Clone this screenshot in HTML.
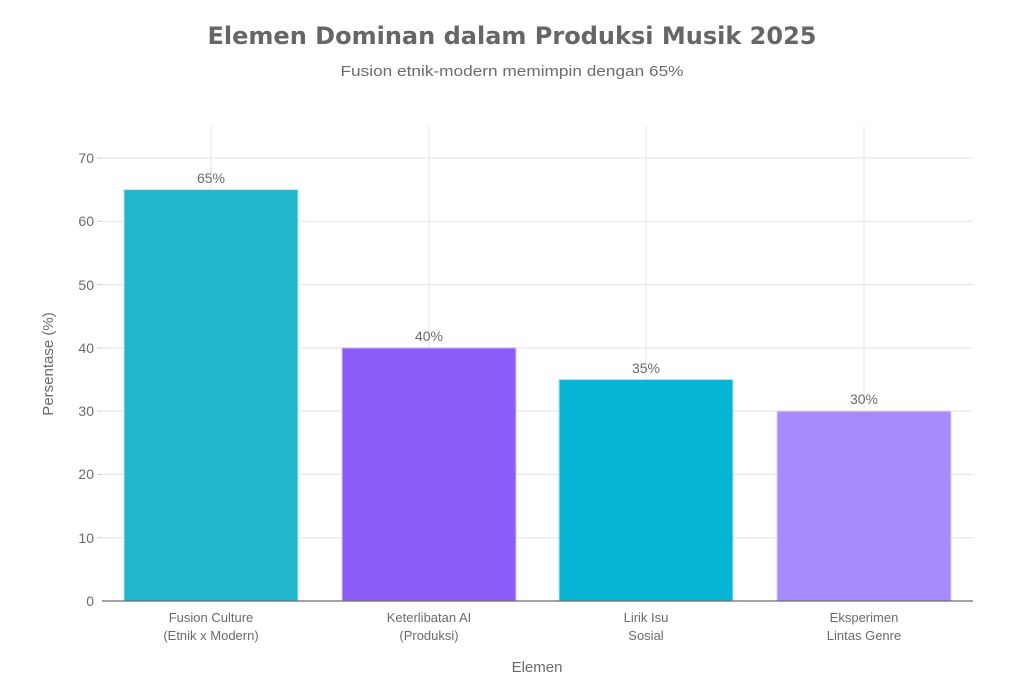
<!DOCTYPE html>
<html><head><meta charset="utf-8"><style>
body{margin:0;background:#fff;}
text{font-family:"Liberation Sans",sans-serif;}
</style></head><body>
<svg width="1024" height="683" xmlns="http://www.w3.org/2000/svg">
<rect width="1024" height="683" fill="#fff"/>
<text x="512" y="44" text-anchor="middle" font-size="24" font-weight="bold" fill="#666" textLength="609" lengthAdjust="spacingAndGlyphs" style="font-family:'DejaVu Sans',sans-serif">Elemen Dominan dalam Produksi Musik 2025</text>
<text x="512" y="76" text-anchor="middle" font-size="15" fill="#6b6b6b" textLength="343" lengthAdjust="spacingAndGlyphs">Fusion etnik-modern memimpin dengan 65%</text>
<g stroke="#e3e3e3" stroke-width="1">
<line x1="102" x2="973" y1="537.7" y2="537.7"/>
<line x1="102" x2="973" y1="474.4" y2="474.4"/>
<line x1="102" x2="973" y1="411.1" y2="411.1"/>
<line x1="102" x2="973" y1="347.9" y2="347.9"/>
<line x1="102" x2="973" y1="284.6" y2="284.6"/>
<line x1="102" x2="973" y1="221.3" y2="221.3"/>
<line x1="102" x2="973" y1="158" y2="158"/>
<line x1="211" x2="211" y1="126" y2="601"/>
<line x1="429" x2="429" y1="126" y2="601"/>
<line x1="646" x2="646" y1="126" y2="601"/>
<line x1="864" x2="864" y1="126" y2="601"/>
</g>
<g stroke="#cfcfcf"><line x1="97" x2="102" y1="537.7" y2="537.7"/><line x1="97" x2="102" y1="474.4" y2="474.4"/><line x1="97" x2="102" y1="411.1" y2="411.1"/><line x1="97" x2="102" y1="347.9" y2="347.9"/><line x1="97" x2="102" y1="284.6" y2="284.6"/><line x1="97" x2="102" y1="221.3" y2="221.3"/><line x1="97" x2="102" y1="158" y2="158"/></g>
<rect x="124" y="189.6" width="174" height="411.4" fill="#21b6cb" stroke="#b8e6ee" stroke-width="1"/>
<rect x="342" y="347.9" width="174" height="253.1" fill="#8b5cf6" stroke="#d2c3fb" stroke-width="1"/>
<rect x="559" y="379.5" width="174" height="221.5" fill="#06b6d4" stroke="#b4e8f2" stroke-width="1"/>
<rect x="777" y="411.1" width="174" height="189.9" fill="#a78bfa" stroke="#ddd1fd" stroke-width="1"/>
<line x1="102" x2="973" y1="601" y2="601" stroke="#6b6b6b" stroke-width="1.2"/>
<g font-size="14" fill="#6b6b6b" text-anchor="middle">
<text x="211" y="183">65%</text><text x="429" y="341">40%</text><text x="646" y="373">35%</text><text x="864" y="404">30%</text>
</g>
<g font-size="14" fill="#6b6b6b" text-anchor="end">
<text x="94" y="606">0</text><text x="94" y="543">10</text><text x="94" y="479">20</text><text x="94" y="416">30</text><text x="94" y="353">40</text><text x="94" y="290">50</text><text x="94" y="226">60</text><text x="94" y="163">70</text>
</g>
<g font-size="13" fill="#6b6b6b" text-anchor="middle">
<text x="211" y="622">Fusion Culture</text><text x="211" y="640">(Etnik x Modern)</text>
<text x="429" y="622">Keterlibatan AI</text><text x="429" y="640">(Produksi)</text>
<text x="646" y="622">Lirik Isu</text><text x="646" y="640">Sosial</text>
<text x="864" y="622">Eksperimen</text><text x="864" y="640">Lintas Genre</text>
</g>
<text x="537" y="672" text-anchor="middle" font-size="15" fill="#6b6b6b">Elemen</text>
<text transform="translate(53,364) rotate(-90)" text-anchor="middle" font-size="15" fill="#6b6b6b">Persentase (%)</text>
</svg>
</body></html>
